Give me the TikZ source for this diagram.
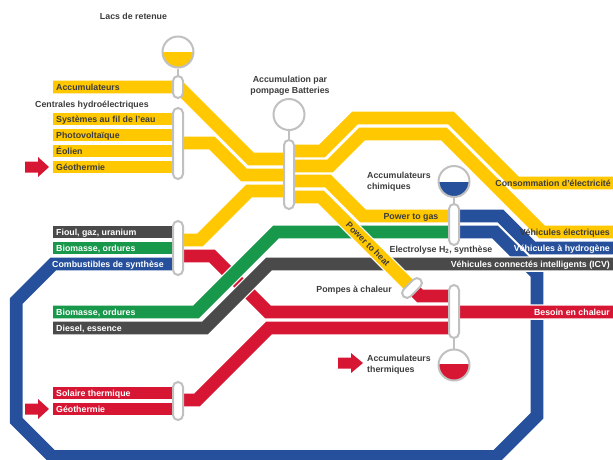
\documentclass[tikz,border=0pt]{standalone}
\usepackage{fontspec}
\setmainfont{Liberation Sans}
\definecolor{ylw}{RGB}{255,200,0}
\definecolor{gry}{RGB}{74,74,74}
\definecolor{grn}{RGB}{24,152,74}
\definecolor{blu}{RGB}{38,80,155}
\definecolor{rd}{RGB}{215,22,52}
\definecolor{capgray}{RGB}{192,192,192}
\definecolor{tdark}{RGB}{60,60,60}
\newcommand\metro[2]{\draw[casing] #2; \draw[ln,draw=#1] #2;}
\begin{document}
\begin{tikzpicture}[x=1pt,y=-1pt,
 casing/.style={draw=white,line width=15.5pt},
 ln/.style={line width=12.8pt},
 lbl/.style={font=\bfseries\fontsize{8.8}{10.5}\selectfont,inner sep=0pt,text height=6.4pt,text depth=0pt},
 dk/.style={lbl,text=tdark},
 wt/.style={lbl,text=white},
 capsule/.style={draw=capgray,fill=white,line width=2pt,rounded corners=5pt,minimum width=10pt,inner sep=0pt},
 tank/.style={circle,draw=capgray,line width=2pt,minimum size=31pt,inner sep=0pt},
 stub/.style={draw=capgray,line width=2pt}]
\useasboundingbox (0,0) rectangle (613,459);
\begin{scope}
\clip (0,0) rectangle (613,459);
% blue loop
\metro{blu}{(454,232) -- (495,232) -- (537,274) -- (537,415.7) -- (496.2,456.5) -- (52.1,456.5) -- (16.3,420.7) -- (16.3,300.9) -- (53.2,264) -- (178,264)}
\metro{blu}{(454,216) -- (500.5,216) -- (532.5,248) -- (620,248)}
% red fioul -> besoin
\metro{rd}{(178,256) -- (212,256) -- (268,312) -- (620,312)}
% fossil bars
\metro{gry}{(53,232) -- (178,232)}
\metro{grn}{(53,248) -- (178,248)}
% green lower
\metro{grn}{(53,312) -- (196,312) -- (276,232) -- (454,232)}
% gray lower
\metro{gry}{(53,328) -- (205,328) -- (269,264) -- (620,264)}
% red lower group
\metro{rd}{(53,393) -- (178,393)}
\metro{rd}{(53,409) -- (178,409)}
\metro{rd}{(178,400) -- (197,400) -- (269,328) -- (454,328)}
% pompes -> thermal
\metro{rd}{(412,288) -- (420,296) -- (454,296)}
% yellow
\metro{ylw}{(53,87) -- (179,87) -- (251,159) -- (289,159)}
\metro{ylw}{(53,119) -- (178,119)}
\metro{ylw}{(53,135) -- (178,135)}
\metro{ylw}{(53,151) -- (178,151)}
\metro{ylw}{(53,167) -- (178,167)}
\metro{ylw}{(178,143) -- (212,143) -- (244,175) -- (289,175)}
\metro{ylw}{(178,240) -- (200,240) -- (249,191) -- (289,191)}
\metro{ylw}{(289,151) -- (322,151) -- (355,118) -- (451,118) -- (516,183) -- (620,183)}
\metro{ylw}{(289,166) -- (330,166) -- (362,134) -- (444,134) -- (542,232) -- (620,232)}
\metro{ylw}{(289,181) -- (328,181) -- (363,216) -- (454,216)}
\metro{ylw}{(289,197) -- (321,197) -- (412,288)}
\end{scope}
% capsules
\node[capsule,minimum height=22pt] (cAcc) at (178,87) {};
\node[capsule,minimum height=71pt] (cHyd) at (178,143.5) {};
\node[capsule,minimum height=54pt] (cFos) at (178,248) {};
\node[capsule,minimum height=38pt] (cSol) at (178,401) {};
\node[capsule,minimum height=69pt] (cBat) at (289,174.5) {};
\node[capsule,minimum height=41pt] (cEle) at (454,224.5) {};
\node[capsule,minimum height=53pt] (cThe) at (454,311.5) {};
\node[capsule,minimum height=24pt,rotate=-45] (cPac) at (412,288) {};
% tanks
\begin{scope}\clip (178,52) circle (15.5); \fill[ylw] (160,52) rectangle (196,70);\end{scope}
\begin{scope}\clip (454,181.5) circle (15.5); \fill[blu] (436,181.5) rectangle (472,199);\end{scope}
\begin{scope}\clip (454,365) circle (15.5); \fill[rd] (436,364) rectangle (472,383);\end{scope}
\node[tank] (kLacs) at (178,52) {};
\node[tank] (kBat) at (289,114.5) {};
\node[tank] (kChi) at (454,181.5) {};
\node[tank] (kThe) at (454,365) {};
\draw[stub] (kLacs.south) -- (cAcc.north);
\draw[stub] (kBat.south) -- (cBat.north);
\draw[stub] (kChi.south) -- (cEle.north);
\draw[stub] (cThe.south) -- (kThe.north);
% arrows
\fill[rd] (25,161.5) -- (38,161.5) -- (38,157) -- (49,167) -- (38,177) -- (38,172.5) -- (25,172.5) -- cycle;
\fill[rd] (25,403.5) -- (38,403.5) -- (38,399) -- (49,409) -- (38,419) -- (38,414.5) -- (25,414.5) -- cycle;
\fill[rd] (338,357.5) -- (351,357.5) -- (351,353) -- (363,363) -- (351,373) -- (351,368.5) -- (338,368.5) -- cycle;
% plain labels
\node[dk] (xLacs) at (133.5,16) {Lacs de retenue};
\node[dk,anchor=west] (xCent) at (35,104) {Centrales hydroélectriques};
\node[dk] (xBat1) at (290,79) {Accumulation par};
\node[dk] (xBat2) at (290,90.5) {pompage Batteries};
\node[dk,anchor=west] (xChi1) at (367,175) {Accumulateurs};
\node[dk,anchor=west] (xChi2) at (367,186) {chimiques};
\node[dk,anchor=west] (xThe1) at (367,358) {Accumulateurs};
\node[dk,anchor=west] (xThe2) at (367,369) {thermiques};
\node[dk,anchor=east] (xPac) at (392,289) {Pompes à chaleur};
\node[dk] (xEle) at (441,249) {Electrolyse H\textsubscript{2}, synthèse};
% bar labels
\node[dk,anchor=west] (bAcc) at (56,87) {Accumulateurs};
\node[dk,anchor=west] (bFil) at (56,119) {Systèmes au fil de l’eau};
\node[dk,anchor=west] (bPv) at (56,135) {Photovoltaïque};
\node[dk,anchor=west] (bEol) at (56,151) {Éolien};
\node[dk,anchor=west] (bGeo) at (56,167) {Géothermie};
\node[wt,anchor=west] (bFio) at (56,232) {Fioul, gaz, uranium};
\node[wt,anchor=west] (bBio) at (56,248) {Biomasse, ordures};
\node[wt,anchor=west] (bCom) at (52,264) {Combustibles de synthèse};
\node[wt,anchor=west] (bBio2) at (56,312) {Biomasse, ordures};
\node[wt,anchor=west] (bDie) at (56,328) {Diesel, essence};
\node[wt,anchor=west] (bSol) at (56,393) {Solaire thermique};
\node[wt,anchor=west] (bGeo2) at (56,409) {Géothermie};
\node[dk,anchor=east] (rCons) at (611,183) {Consommation d’électricité};
\node[dk,anchor=east] (rVel) at (610,232) {Véhicules électriques};
\node[wt,anchor=east] (rVh) at (610,248) {Véhicules à hydrogène};
\node[wt,anchor=east] (rIcv) at (610,264) {Véhicules connectés intelligents (ICV)};
\node[wt,anchor=east] (rBes) at (610,312) {Besoin en chaleur};
\node[dk] (xPtg) at (411,216) {Power to gas};
\node[dk,rotate=-45] (xPth) at (368,244) {Power to heat};
\end{tikzpicture}
\end{document}
